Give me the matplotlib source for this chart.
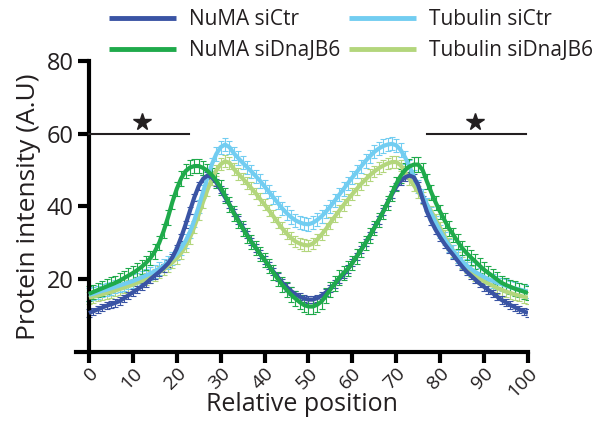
import matplotlib
matplotlib.use("Agg")
import matplotlib.pyplot as plt

plt.rcParams['font.family'] = ['Open Sans', 'DejaVu Sans']

# relative position along the spindle (0..100)
position = list(range(0, 101))

numa_ctr = [10.7, 11.2, 11.7, 12.2, 12.7, 13.1, 13.5, 14.0, 14.8, 15.6,
            16.4, 17.2, 18.0, 18.9, 20.0, 21.0, 22.0, 23.1, 24.3, 26.0,
            28.4, 31.5, 35.0, 38.8, 42.5, 45.6, 47.6, 48.5, 48.0, 46.6,
            44.6, 42.5, 40.5, 38.4, 36.3, 34.3, 32.3, 30.3, 28.6, 26.9,
            25.3, 23.7, 22.1, 20.6, 19.1, 17.9, 16.8, 15.9, 15.2, 14.7,
            14.4, 14.4, 14.8, 15.5, 16.4, 17.5, 18.7, 20.0, 21.3, 22.8,
            24.5, 26.3, 28.1, 30.0, 32.0, 34.1, 36.3, 38.6, 41.0, 43.3,
            45.4, 47.0, 48.0, 48.5, 48.0, 45.8, 42.0, 38.5, 35.8, 33.5,
            31.5, 29.7, 28.1, 26.6, 25.0, 23.5, 22.1, 21.0, 19.9, 18.8,
            17.9, 17.0, 16.1, 15.2, 14.3, 13.6, 12.9, 12.3, 11.7, 11.2,
            10.7]

numa_dnajb6 = [16.0, 16.5, 17.0, 17.5, 18.0, 18.5, 19.0, 19.6, 20.3, 21.0,
               21.7, 22.5, 23.4, 24.5, 25.8, 27.6, 30.0, 33.2, 37.0, 41.2,
               44.8, 47.7, 49.7, 50.7, 51.1, 51.1, 50.6, 49.8, 48.6, 47.1,
               45.2, 43.0, 40.5, 38.1, 36.0, 34.0, 32.0, 30.2, 28.6, 26.9,
               25.3, 23.6, 21.8, 20.1, 18.5, 17.1, 15.8, 14.7, 13.7, 12.9,
               12.5, 12.5, 13.0, 13.9, 15.5, 17.2, 18.8, 20.4, 21.7, 22.9,
               24.5, 26.3, 28.1, 30.0, 32.0, 34.1, 36.3, 38.5, 41.0, 43.6,
               46.2, 48.4, 50.0, 51.0, 51.5, 51.5, 50.0, 46.8, 43.8, 41.0,
               38.5, 36.2, 34.0, 32.2, 30.3, 28.6, 27.2, 26.0, 24.9, 23.7,
               22.6, 21.7, 20.8, 19.9, 19.0, 18.4, 17.9, 17.4, 17.0, 16.6,
               16.2]

tub_ctr = [15.7, 16.0, 16.4, 16.8, 17.1, 17.5, 17.9, 18.3, 18.7, 19.1,
           19.5, 20.0, 20.5, 21.0, 21.6, 22.2, 22.9, 23.7, 24.7, 25.8,
           27.0, 28.5, 30.5, 33.0, 36.2, 40.0, 44.0, 48.0, 51.6, 54.4,
           56.3, 57.0, 56.3, 54.6, 53.3, 52.0, 50.8, 49.6, 48.3, 47.0,
           45.5, 44.0, 42.5, 41.0, 39.5, 38.2, 37.1, 36.2, 35.6, 35.2,
           35.1, 35.5, 36.3, 37.3, 38.6, 40.0, 41.6, 43.2, 44.8, 46.4,
           48.0, 49.5, 51.0, 52.5, 53.8, 55.0, 55.9, 56.6, 57.0, 57.2,
           56.8, 55.5, 53.5, 51.0, 48.2, 45.5, 43.0, 40.5, 38.0, 35.5,
           33.2, 31.1, 29.3, 27.7, 26.2, 24.9, 23.8, 22.8, 22.0, 21.3,
           20.6, 20.0, 19.5, 19.0, 18.6, 18.2, 17.8, 17.5, 17.2, 16.9,
           16.6]

tub_dnajb6 = [14.9, 15.2, 15.5, 15.8, 16.2, 16.5, 16.9, 17.3, 17.7, 18.1,
              18.5, 19.0, 19.5, 20.0, 20.6, 21.2, 21.9, 22.7, 23.6, 24.6,
              25.8, 27.2, 29.0, 31.4, 34.4, 37.8, 41.3, 44.6, 47.5, 49.9,
              51.6, 52.4, 52.0, 50.3, 49.0, 47.7, 46.4, 45.0, 43.6, 42.0,
              40.5, 38.9, 37.3, 35.6, 34.0, 32.6, 31.4, 30.4, 29.8, 29.4,
              29.3, 29.8, 30.9, 32.3, 33.8, 35.5, 37.2, 38.8, 40.4, 41.9,
              43.4, 44.8, 46.2, 47.4, 48.6, 49.6, 50.5, 51.2, 51.8, 52.2,
              52.2, 51.3, 49.5, 47.5, 45.8, 44.0, 42.3, 40.5, 38.6, 36.4,
              34.1, 31.9, 29.6, 27.7, 26.0, 24.5, 23.2, 22.1, 21.1, 20.2,
              19.4, 18.8, 18.2, 17.6, 17.1, 16.6, 16.2, 15.8, 15.5, 15.2,
              14.9]

# approximate error bar half-heights (SEM) per series
sem_numa_ctr = 1.0
sem_numa_dnajb6 = 2.0
sem_tub_ctr = 1.8
sem_tub_dnajb6 = 1.6

labels = ['NuMA siCtr', 'NuMA siDnaJB6', 'Tubulin siCtr', 'Tubulin siDnaJB6']
x_ticks = list(range(0, 101, 10))
y_ticks = [20, 40, 60, 80]

# significance bars: (start, end, star position)
sig_left = (0, 22.8, 12)
sig_right = (77, 99.5, 88)
sig_level = 60

c_numa_ctr = '#3a54a4'
c_numa_dna = '#1faa4b'
c_tub_ctr = '#72cdf1'
c_tub_dna = '#b3d67c'
ink = '#231f20'

fig = plt.figure(figsize=(6, 4.3), dpi=100)
ax = fig.add_axes([0.1263, 0.1814, 0.7537, 0.677])

series = [
    (tub_dnajb6, sem_tub_dnajb6, c_tub_dna, labels[3]),
    (tub_ctr, sem_tub_ctr, c_tub_ctr, labels[2]),
    (numa_ctr, sem_numa_ctr, c_numa_ctr, labels[0]),
    (numa_dnajb6, sem_numa_dnajb6, c_numa_dna, labels[1]),
]
handles = {}
for vals, sem, col, lab in series:
    ax.errorbar(position, vals, yerr=sem, fmt='none', ecolor=col,
                elinewidth=0.8, capsize=2, capthick=0.8, zorder=2)
    ln, = ax.plot(position, vals, color=col, lw=3, label=lab, zorder=3,
                  solid_capstyle='butt')
    handles[lab] = ln

# significance lines and stars
for start, end, star in (sig_left, sig_right):
    ax.plot([start, end], [sig_level, sig_level], color=ink, lw=1.5,
            clip_on=False, zorder=4)
    ax.plot([star], [sig_level + 3.3], marker='*', color=ink,
            markersize=13, clip_on=False, zorder=4)

ax.set_xlim(-3, 100)
ax.set_ylim(0, 80)
ax.spines['left'].set_position(('data', 0))
ax.spines['top'].set_visible(False)
ax.spines['right'].set_visible(False)
for s in ('left', 'bottom'):
    ax.spines[s].set_linewidth(3)
    ax.spines[s].set_color('black')

ax.set_xticks(x_ticks)
ax.set_xticklabels([str(t) for t in x_ticks], rotation=45, ha='right',
                   rotation_mode='anchor', fontsize=14, color=ink)
ax.set_yticks(y_ticks)
ax.set_yticklabels([str(t) for t in y_ticks], fontsize=17, color=ink)
ax.tick_params(axis='both', length=8, width=3, direction='out', color='black')
ax.tick_params(axis='x', pad=1)
ax.tick_params(axis='y', pad=3)

ax.set_xlabel('Relative position', fontsize=18, color=ink, va='center')
ax.xaxis.set_label_coords(0.5, -0.182)
ax.set_ylabel('Protein intensity (A.U)', fontsize=19, color=ink, labelpad=4)

order = ['NuMA siCtr', 'NuMA siDnaJB6', 'Tubulin siCtr', 'Tubulin siDnaJB6']
leg = fig.legend([handles[k] for k in order], order, loc='upper left',
                 bbox_to_anchor=(0.182, 0.978), ncol=2, frameon=False,
                 fontsize=15, handlelength=3.2, handletextpad=0.65,
                 columnspacing=0.4, labelspacing=0.45, borderpad=0,
                 borderaxespad=0)
for t in leg.get_texts():
    t.set_color(ink)
for l in leg.get_lines():
    l.set_linewidth(3.5)

fig.savefig('out.png', dpi=100)
